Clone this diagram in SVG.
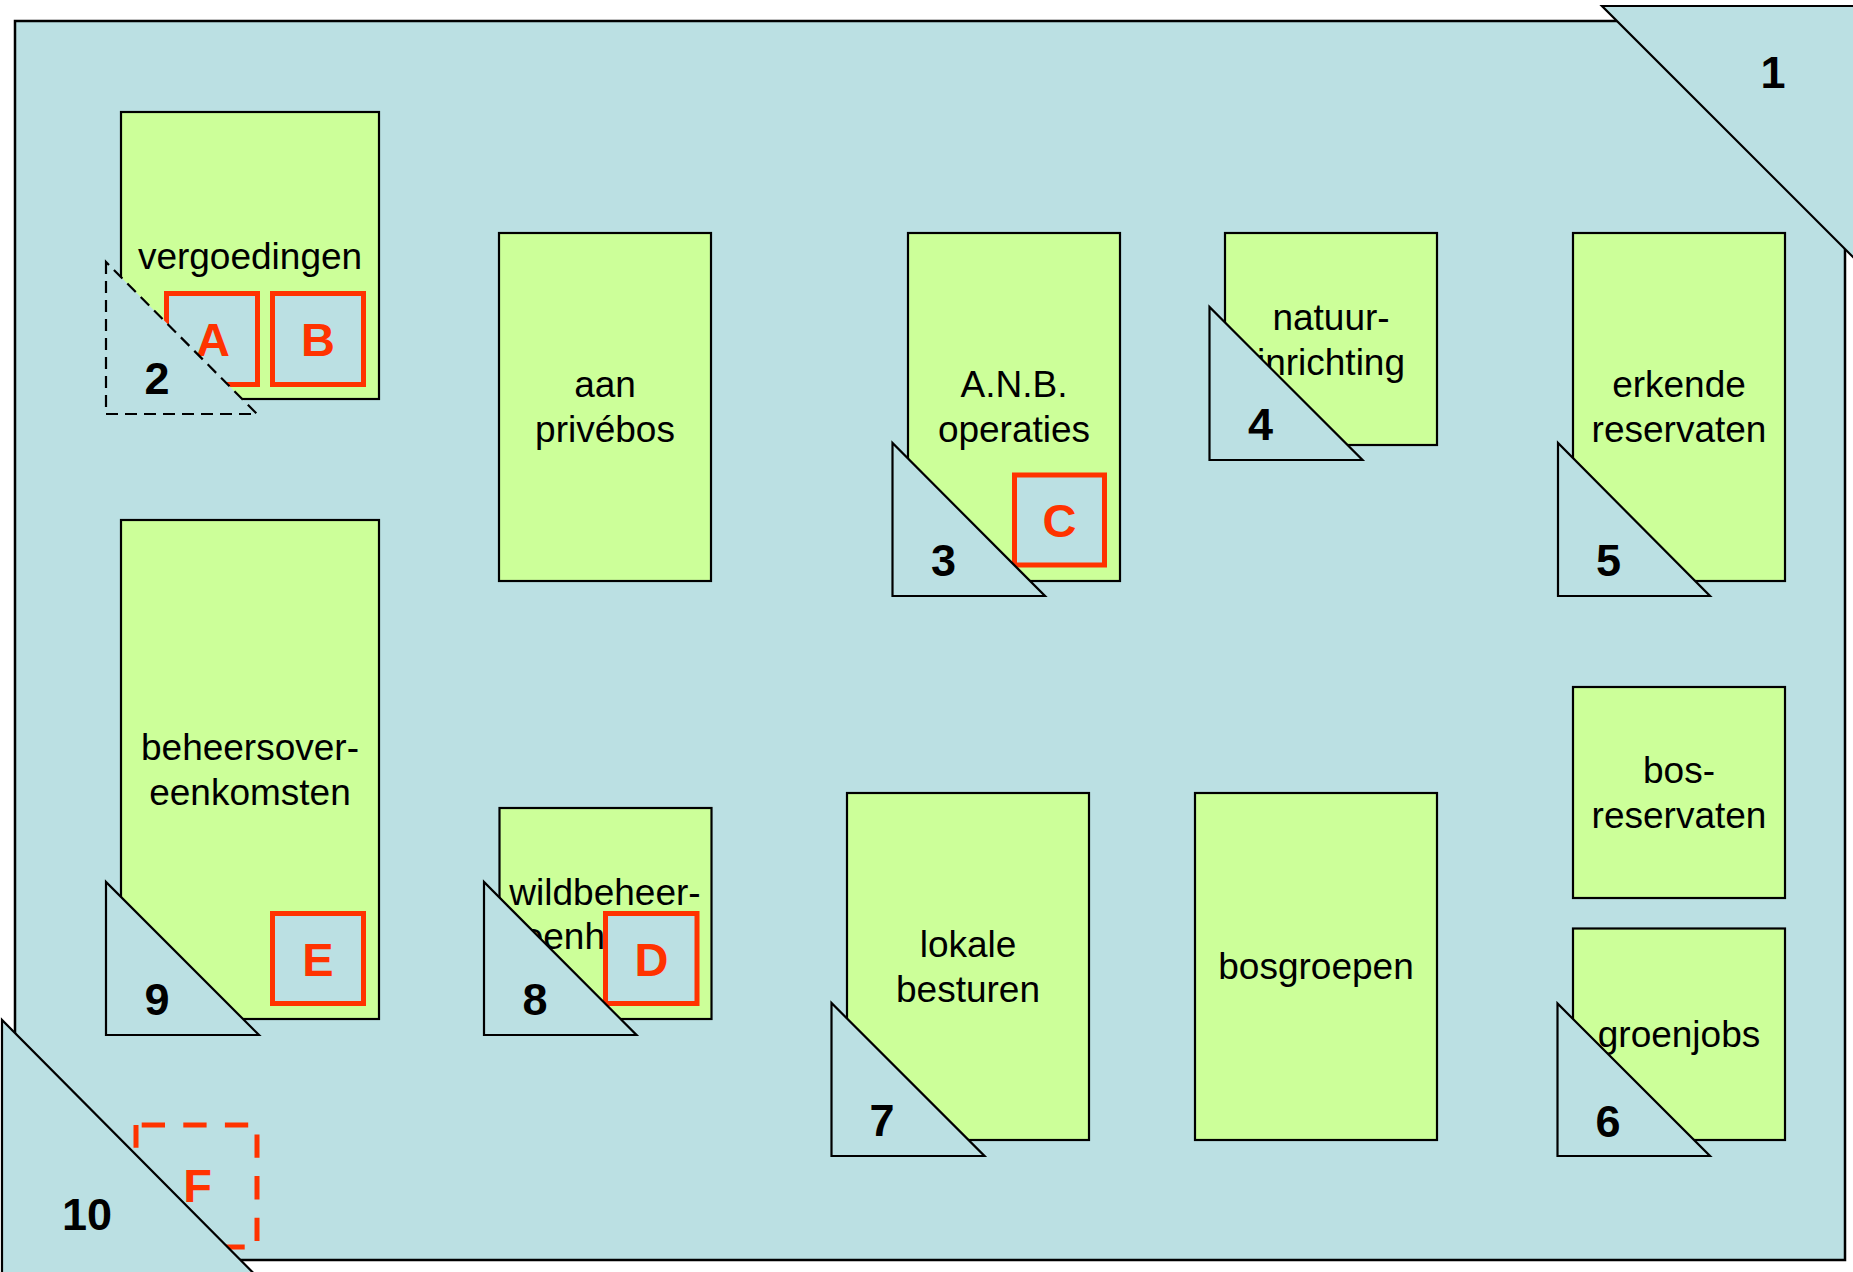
<svg xmlns="http://www.w3.org/2000/svg" width="1853" height="1272" viewBox="0 0 1853 1272">
<style>
.bg{fill:#BBE0E3;stroke:#000;stroke-width:2.5}
.box{fill:#CCFF99;stroke:#000;stroke-width:2.2}
.tri{fill:#BBE0E3;stroke:#000;stroke-width:2.2;stroke-linejoin:miter}
.tri-d{fill:#BBE0E3;stroke:#000;stroke-width:2.2;stroke-dasharray:12 7}
.red{fill:#BBE0E3;stroke:#FF3300;stroke-width:5}
.red-d{fill:none;stroke:#FF3300;stroke-width:5;stroke-dasharray:23.3 18.3;stroke-dashoffset:35.9}
.lbl{font-family:"Liberation Sans",Arial,sans-serif;font-size:37px;fill:#000;text-anchor:middle}
.num{font-family:"Liberation Sans",Arial,sans-serif;font-size:45px;font-weight:bold;fill:#000;text-anchor:middle}
.let{font-family:"Liberation Sans",Arial,sans-serif;font-size:47px;font-weight:bold;fill:#FF3300;text-anchor:middle}
</style>
<g id="background">
<rect class="bg" x="15" y="21" width="1830" height="1239"/>
</g>
<g id="connectors"></g>

<g id="node-vergoedingen">
<rect class="box" x="121" y="112" width="258" height="287"/>
<text class="lbl" x="250" y="269">vergoedingen</text>
</g>
<g id="node-A">
<rect class="red" x="166.5" y="293.5" width="91" height="91"/>
<text class="let" x="213" y="356">A</text>
</g>
<g id="node-B">
<rect class="red" x="272.5" y="293.5" width="91" height="91"/>
<text class="let" x="318" y="356">B</text>
</g>

<g id="node-aan-privebos">
<rect class="box" x="499" y="233" width="212" height="348"/>
<text class="lbl" x="605" y="397">aan</text>
<text class="lbl" x="605" y="442">privébos</text>
</g>

<g id="node-anb">
<rect class="box" x="908" y="233" width="212" height="348"/>
<text class="lbl" x="1014" y="397">A.N.B.</text>
<text class="lbl" x="1014" y="442">operaties</text>
</g>
<g id="node-C">
<rect class="red" x="1014.5" y="475" width="90" height="90"/>
<text class="let" x="1059.5" y="537">C</text>
</g>

<g id="node-natuurinrichting">
<rect class="box" x="1225" y="233" width="212" height="212"/>
<text class="lbl" x="1331" y="330">natuur-</text>
<text class="lbl" x="1331" y="375">inrichting</text>
</g>

<g id="node-erkende">
<rect class="box" x="1573" y="233" width="212" height="348"/>
<text class="lbl" x="1679" y="397">erkende</text>
<text class="lbl" x="1679" y="442">reservaten</text>
</g>

<g id="node-beheersovereenkomsten">
<rect class="box" x="121" y="520" width="258" height="499"/>
<text class="lbl" x="250" y="760">beheersover-</text>
<text class="lbl" x="250" y="805">eenkomsten</text>
</g>
<g id="node-E">
<rect class="red" x="272.5" y="913.5" width="91" height="90"/>
<text class="let" x="318" y="975.5">E</text>
</g>

<g id="node-wildbeheer">
<rect class="box" x="499.5" y="808" width="212" height="211"/>
<text class="lbl" x="605" y="905">wildbeheer-</text>
<text class="lbl" x="605" y="949">eenheden</text>
</g>
<g id="node-D">
<rect class="red" x="605.5" y="913.5" width="91.5" height="90"/>
<text class="let" x="651.5" y="975.5">D</text>
</g>

<g id="node-lokale-besturen">
<rect class="box" x="847" y="793" width="242" height="347"/>
<text class="lbl" x="968" y="957">lokale</text>
<text class="lbl" x="968" y="1001.5">besturen</text>
</g>

<g id="node-bosgroepen">
<rect class="box" x="1195" y="793" width="242" height="347"/>
<text class="lbl" x="1316" y="979">bosgroepen</text>
</g>

<g id="node-bosreservaten">
<rect class="box" x="1573" y="687" width="212" height="211"/>
<text class="lbl" x="1679" y="783">bos-</text>
<text class="lbl" x="1679" y="828">reservaten</text>
</g>

<g id="node-groenjobs">
<rect class="box" x="1573" y="928.5" width="212" height="211.5"/>
<text class="lbl" x="1679" y="1047">groenjobs</text>
</g>

<g id="node-F">
<rect class="red-d" x="136" y="1125" width="121" height="122"/>
<text class="let" x="197.5" y="1202">F</text>
</g>

<g id="tri-1">
<polygon class="tri" points="1602,6 1910,6 1910,314"/>
<text class="num" x="1773" y="88">1</text>
</g>
<g id="tri-2">
<polygon class="tri-d" points="106,262 106,414 257,414"/>
<text class="num" x="157" y="394">2</text>
</g>
<g id="tri-3">
<polygon class="tri" points="892.5,443 892.5,596 1045,596"/>
<text class="num" x="943.5" y="576">3</text>
</g>
<g id="tri-4">
<polygon class="tri" points="1209.5,307 1209.5,460 1362.5,460"/>
<text class="num" x="1260.5" y="440">4</text>
</g>
<g id="tri-5">
<polygon class="tri" points="1558,443 1558,596 1710,596"/>
<text class="num" x="1608.5" y="576">5</text>
</g>
<g id="tri-6">
<polygon class="tri" points="1557.5,1003.5 1557.5,1156 1710,1156"/>
<text class="num" x="1608" y="1136.5">6</text>
</g>
<g id="tri-7">
<polygon class="tri" points="831.5,1003 831.5,1156 984.5,1156"/>
<text class="num" x="882" y="1135.5">7</text>
</g>
<g id="tri-8">
<polygon class="tri" points="484,882 484,1035 636.5,1035"/>
<text class="num" x="535" y="1015">8</text>
</g>
<g id="tri-9">
<polygon class="tri" points="106,882 106,1035 259,1035"/>
<text class="num" x="157" y="1015">9</text>
</g>
<g id="tri-10">
<polygon class="tri" points="2,1020 2,1330 310,1330"/>
<text class="num" x="87" y="1230">10</text>
</g>
</svg>
